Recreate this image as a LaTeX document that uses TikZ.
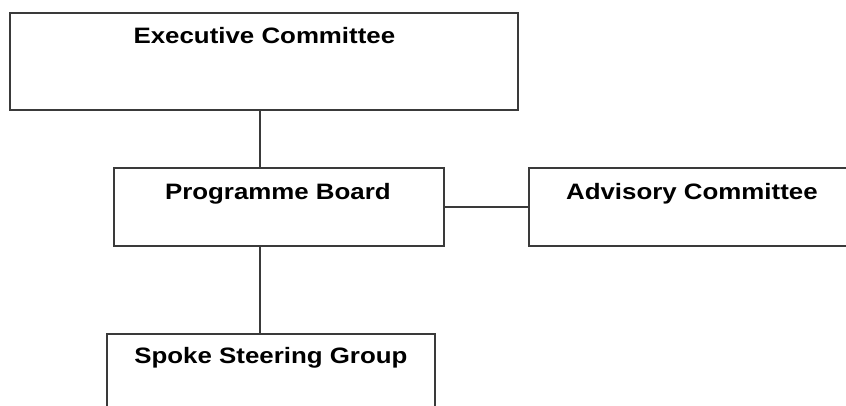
\documentclass[tikz,border=0pt]{standalone}
\usepackage{fontspec}
\usetikzlibrary{calc}
\newfontfamily\boxfont{Liberation Sans}[FakeStretch=1.16]
\definecolor{linegray}{HTML}{3A3A3A}
\begin{document}
\begin{tikzpicture}[x=1pt,y=-1pt,
  box/.style={draw=linegray, line width=1.8pt, rectangle, inner sep=0pt, anchor=north west},
  lbl/.style={font=\boxfont\bfseries\fontsize{22.3}{26}\selectfont, anchor=base, inner sep=0pt},
  link/.style={draw=linegray, line width=1.8pt}]
\useasboundingbox (0,0) rectangle (846,405);
\fill[white] (0,0) rectangle (846,405);
\clip (0,0) rectangle (846,405);

% boxes
\node[box, minimum width=508, minimum height=97] (exec) at (9,12) {};
\node[box, minimum width=330, minimum height=78] (prog) at (113,167) {};
\node[box, minimum width=326, minimum height=78] (adv) at (528,167) {};
\node[box, minimum width=328, minimum height=120] (spoke) at (106,333) {};

% titles near the top of each box
\node[lbl] (execT) at ($(exec.north)+(0.5,31.5)$) {Executive Committee};
\node[lbl] (progT) at ($(prog.north)+(-1,32.3)$) {Programme Board};
\node[lbl] (advT) at ($(adv.north)+(0,32.3)$) {Advisory Committee};
\node[lbl] (spokeT) at ($(spoke.north)+(0,30.3)$) {Spoke Steering Group};

% connectors
\coordinate (spine) at (260,0);
\draw[link] (exec.south -| spine) -- (prog.north -| spine);
\draw[link] (prog.south -| spine) -- (spoke.north -| spine);
\draw[link] (prog.east) -- (adv.west);
\end{tikzpicture}
\end{document}
